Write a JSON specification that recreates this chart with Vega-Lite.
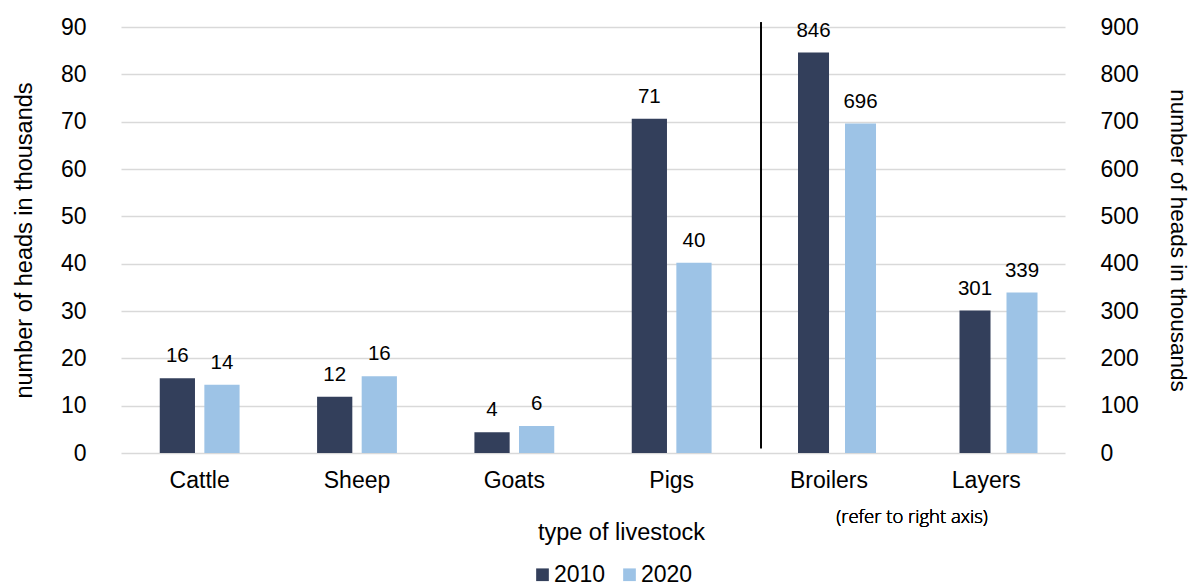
{
  "$schema": "https://vega.github.io/schema/vega-lite/v6.json",
  "width": 944,
  "height": 426,
  "autosize": {"type": "none"},
  "padding": {"left": 121, "top": 27, "right": 127, "bottom": 135},
  "config": {
    "view": {"stroke": null},
    "font": "Liberation Sans",
    "axis": {"labelColor": "#000000", "titleColor": "#000000", "titleFontWeight": "normal", "labelFont": "Liberation Sans", "titleFont": "Liberation Sans"},
    "legend": {"labelColor": "#000000", "labelFont": "Liberation Sans"}
  },
  "layer": [
    {
      "data": {
        "values": [
          {"livestock": "Cattle", "year": "2010", "heads": 15.8},
          {"livestock": "Cattle", "year": "2020", "heads": 14.4},
          {"livestock": "Sheep", "year": "2010", "heads": 11.9},
          {"livestock": "Sheep", "year": "2020", "heads": 16.2},
          {"livestock": "Goats", "year": "2010", "heads": 4.4},
          {"livestock": "Goats", "year": "2020", "heads": 5.7},
          {"livestock": "Pigs", "year": "2010", "heads": 70.6},
          {"livestock": "Pigs", "year": "2020", "heads": 40.2}
        ]
      },
      "encoding": {
        "x": {
          "field": "livestock", "type": "nominal",
          "scale": {"domain": ["Cattle", "Sheep", "Goats", "Pigs", "Broilers", "Layers"], "paddingInner": 0.2, "paddingOuter": 0.1},
          "axis": {"title": "type of livestock", "labelAngle": 0, "domain": false, "ticks": false, "labelFontSize": 23, "labelPadding": 16, "titleFontSize": 23.5, "titlePadding": 28, "titleX": 500}
        },
        "xOffset": {"field": "year", "type": "nominal", "scale": {"domain": ["2010", "2020"], "paddingInner": 0.21, "paddingOuter": 0.516}},
        "y": {
          "field": "heads", "type": "quantitative",
          "scale": {"domain": [0, 90], "nice": false},
          "axis": {"orient": "left", "values": [0, 10, 20, 30, 40, 50, 60, 70, 80, 90], "title": "number of heads in thousands", "domain": false, "ticks": false, "labelFontSize": 23, "labelPadding": 35, "titleFontSize": 23.5, "titlePadding": 24, "grid": true, "gridColor": "#D9D9D9", "gridWidth": 1.5}
        }
      },
      "layer": [
        {
          "mark": {"type": "bar"},
          "encoding": {
            "color": {
              "field": "year", "type": "nominal",
              "scale": {"domain": ["2010", "2020"], "range": ["#333F5B", "#9DC3E6"]},
              "legend": {"orient": "none", "legendX": 410, "legendY": 536, "title": null, "direction": "horizontal", "symbolType": "square", "symbolSize": 161, "labelFontSize": 23, "symbolStrokeWidth": 0, "labelOffset": 0, "columnPadding": 12}
            }
          }
        },
        {
          "mark": {"type": "text", "baseline": "alphabetic", "dy": -16, "fontSize": 20.5, "color": "#000000"},
          "encoding": {"text": {"field": "heads", "type": "quantitative", "format": ".0f"}}
        }
      ]
    },
    {
      "data": {
        "values": [
          {"livestock": "Broilers", "year": "2010", "heads": 846},
          {"livestock": "Broilers", "year": "2020", "heads": 696},
          {"livestock": "Layers", "year": "2010", "heads": 301},
          {"livestock": "Layers", "year": "2020", "heads": 339}
        ]
      },
      "layer": [
        {
          "mark": {"type": "bar"},
          "encoding": {
            "x": {"field": "livestock", "type": "nominal", "scale": {"domain": ["Cattle", "Sheep", "Goats", "Pigs", "Broilers", "Layers"], "paddingInner": 0.1765, "paddingOuter": 0.011, "align": 1}, "axis": null},
            "xOffset": {"field": "year", "type": "nominal", "scale": {"domain": ["2010", "2020"], "paddingInner": 0.34, "paddingOuter": 0.585}},
            "y": {
              "field": "heads", "type": "quantitative",
              "scale": {"domain": [0, 900], "nice": false},
              "axis": {"orient": "right", "values": [0, 100, 200, 300, 400, 500, 600, 700, 800, 900], "title": "number of heads in thousands", "domain": false, "ticks": false, "grid": false, "labelFontSize": 23, "labelPadding": 35, "titleFontSize": 22.5, "titlePadding": 27}
            },
            "color": {"field": "year", "type": "nominal", "scale": {"domain": ["2010", "2020"], "range": ["#333F5B", "#9DC3E6"]}}
          }
        },
        {
          "mark": {"type": "text", "baseline": "alphabetic", "dy": -16, "fontSize": 20.5, "color": "#000000"},
          "encoding": {
            "x": {"field": "livestock", "type": "nominal"},
            "xOffset": {"field": "year", "type": "nominal"},
            "y": {"field": "heads", "type": "quantitative"},
            "text": {"field": "heads", "type": "quantitative", "format": ".0f"}
          }
        },
        {
          "mark": {"type": "rule", "color": "#000000", "strokeWidth": 1.2},
          "encoding": {
            "x": {"datum": "Broilers", "bandPosition": -0.0714},
            "y": {"datum": 910},
            "y2": {"datum": 10}
          }
        },
        {
          "mark": {"type": "text", "font": "Open Sans", "fontSize": 18.5, "fontWeight": 300, "baseline": "middle", "align": "center", "color": "#000000"},
          "encoding": {
            "x": {"datum": "Broilers", "bandPosition": 1.064},
            "y": {"datum": -136},
            "text": {"value": "(refer to right axis)"}
          }
        }
      ]
    }
  ],
  "resolve": {
    "scale": {"x": "independent", "xOffset": "independent", "y": "independent"},
    "axis": {"x": "independent", "y": "independent"}
  }
}
